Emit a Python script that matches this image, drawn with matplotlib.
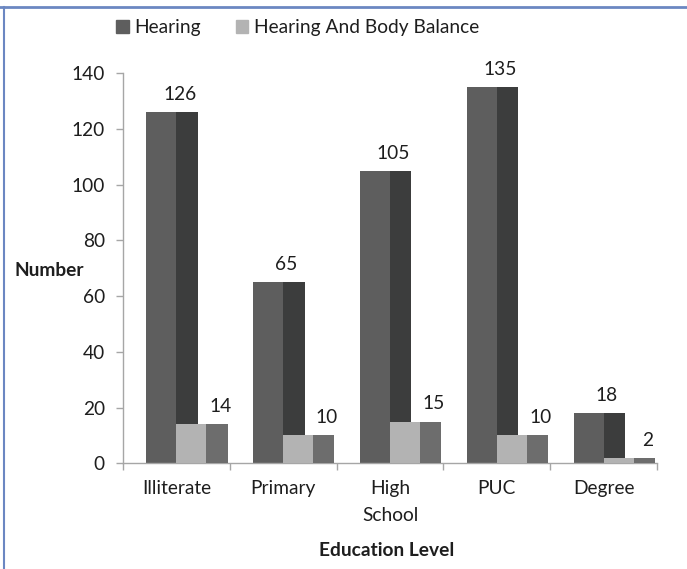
import matplotlib
matplotlib.use("Agg")
import matplotlib.pyplot as plt
from matplotlib.patches import Rectangle
from matplotlib.lines import Line2D
import numpy as np

categories = ["Illiterate", "Primary", "High\nSchool", "PUC", "Degree"]
hearing = [126, 65, 105, 135, 18]
hearing_balance = [14, 10, 15, 10, 2]
series_names = ["Hearing", "Hearing And Body Balance"]
y_ticks = [0, 20, 40, 60, 80, 100, 120, 140]

FONT = "Lato"
FS = 13.8
TXT = "#1e1e1e"
AXIS = "#a6a6a6"

H_FRONT, H_SIDE = "#5e5e5e", "#3c3d3d"
B_FRONT, B_SIDE = "#b3b3b3", "#6d6d6d"

fig = plt.figure(figsize=(6.87, 5.69), dpi=100)
ax = fig.add_axes([123 / 687, 1 - 463.3 / 569, (657 - 123) / 687, (463.3 - 73.3) / 569])

x = np.arange(len(categories))
front_w, side_w = 0.28, 0.2

# Hearing: lighter front face + darker side face
ax.bar(x - front_w, hearing, width=front_w, align="edge", color=H_FRONT, zorder=2)
ax.bar(x, hearing, width=side_w, align="edge", color=H_SIDE, zorder=2)
# Hearing And Body Balance, placed in front of the hearing side face
ax.bar(x, hearing_balance, width=front_w, align="edge", color=B_FRONT, zorder=3)
ax.bar(x + front_w, hearing_balance, width=side_w, align="edge", color=B_SIDE, zorder=3)

for xi, v in zip(x, hearing):
    ax.annotate(str(v), (xi + 0.03, v), xytext=(0, 6.5), textcoords="offset points",
                ha="center", va="bottom", fontsize=FS, family=FONT, color=TXT)
for xi, v in zip(x, hearing_balance):
    ax.annotate(str(v), (xi + 0.41, v), xytext=(0, 6.5), textcoords="offset points",
                ha="center", va="bottom", fontsize=FS, family=FONT, color=TXT)

ax.set_xlim(-0.5, len(categories) - 0.5)
ax.set_ylim(0, 140)
ax.set_yticks(y_ticks)
ax.set_yticklabels([str(t) for t in y_ticks], fontsize=FS, family=FONT, color=TXT)
ax.set_xticks(x)
ax.set_xticklabels(categories, fontsize=FS, family=FONT, color=TXT, linespacing=1.75,
                   va="top")
ax.tick_params(axis="x", length=0, pad=12)
ax.tick_params(axis="y", length=5, width=1, color=AXIS, pad=8)

# category boundary ticks below the x axis
ax.set_xticks(np.arange(-0.5, len(categories) + 0.5, 1), minor=True)
ax.tick_params(axis="x", which="minor", length=5, width=1, color=AXIS)

for s in ["top", "right"]:
    ax.spines[s].set_visible(False)
for s in ["left", "bottom"]:
    ax.spines[s].set_color(AXIS)
    ax.spines[s].set_linewidth(1)

fig.text(14 / 687, 1 - 270 / 569, "Number", fontsize=FS, family=FONT,
         fontweight="bold", color=TXT, ha="left", va="center")
fig.text(387 / 687, 1 - 551 / 569, "Education Level", fontsize=FS, family=FONT,
         fontweight="bold", color=TXT, ha="center", va="center")

handles = [Rectangle((0, 0), 1, 1, color=H_FRONT), Rectangle((0, 0), 1, 1, color=B_FRONT)]
fig.legend(handles, series_names, loc="center left", bbox_to_anchor=(103 / 687, 1 - 28 / 569),
           ncol=2, frameon=False, prop={"family": FONT, "size": FS},
           handlelength=0.65, handleheight=0.65, handletextpad=0.3, columnspacing=1.8,
           labelcolor=TXT, borderpad=0.2)

# blue frame lines along top and left edges
fig.add_artist(Line2D([0, 1], [1 - 7 / 569] * 2, transform=fig.transFigure,
                      color="#6b87c2", lw=2))
fig.add_artist(Line2D([4 / 687] * 2, [0, 1 - 7 / 569], transform=fig.transFigure,
                      color="#6b87c2", lw=1.5))

fig.savefig("out.png", dpi=100)
